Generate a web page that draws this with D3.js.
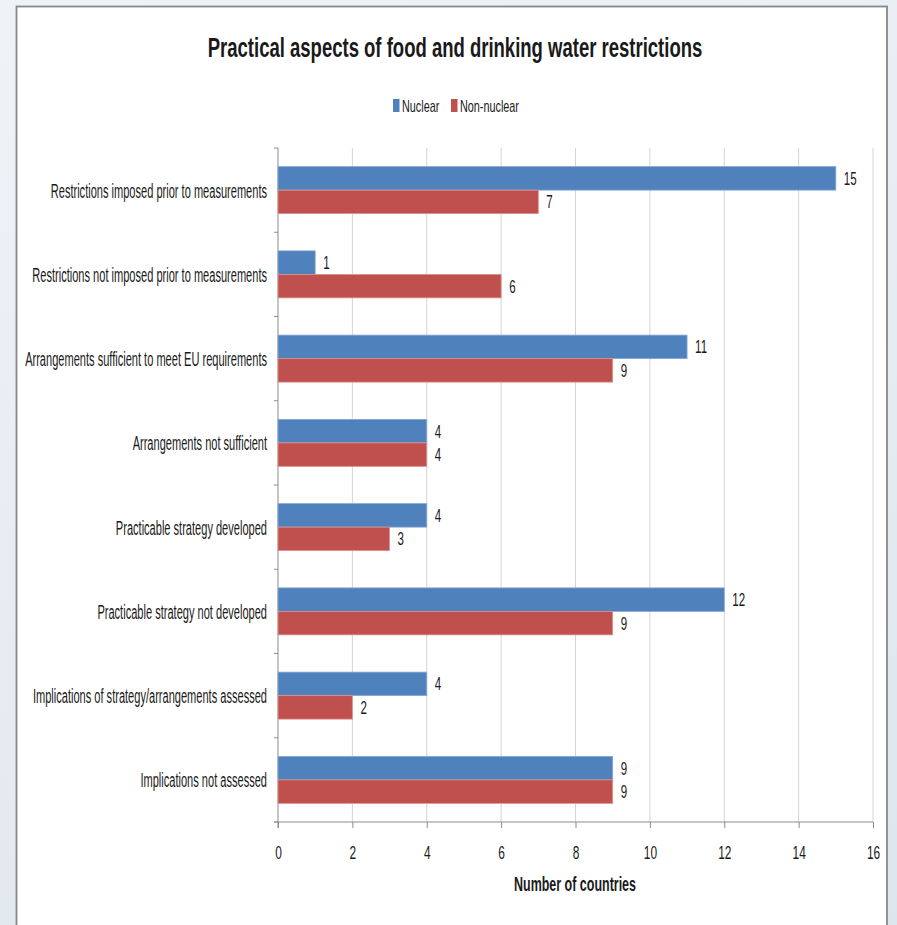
<!DOCTYPE html>
<meta charset="utf-8">
<style>
body {
    margin: 0;
    padding: 0;
    background: linear-gradient(160deg, #eef3f7, #dde6ed);
    width: 897px;
    height: 925px;
    overflow: hidden;
}
text {
    font-family: "Liberation Sans", Arial, sans-serif;
    fill: #1a1a1a;
}
</style>
<body>
<svg width="897" height="925"></svg>
<script src="https://d3js.org/d3.v7.min.js"></script>
<script>
// chart values
var categories = [
    "Restrictions imposed prior to measurements",
    "Restrictions not imposed prior to measurements",
    "Arrangements sufficient to meet EU requirements",
    "Arrangements not sufficient",
    "Practicable strategy developed",
    "Practicable strategy not developed",
    "Implications of strategy/arrangements assessed",
    "Implications not assessed"
];
var nuclear = [15, 1, 11, 4, 4, 12, 4, 9];
var nonNuclear = [7, 6, 9, 4, 3, 9, 2, 9];
var seriesNames = ["Nuclear", "Non-nuclear"];
var seriesColors = ["#4f81bd", "#c0504d"];
var xTicks = [0, 2, 4, 6, 8, 10, 12, 14, 16];

var svg = d3.select("svg");

// narrow the text horizontally (no condensed font available)
function squeeze(sel, s) {
    sel.each(function() {
        var t = d3.select(this),
            px = +t.attr("x") || 0,
            py = +t.attr("y") || 0;
        t.attr("x", 0).attr("y", 0)
         .attr("transform", "translate(" + px + "," + py + ") scale(" + s + ",1)");
    });
}

// white panel
svg.append("rect")
    .attr("x", 16.5).attr("y", 6.5)
    .attr("width", 870.5).attr("height", 930)
    .attr("fill", "#fff")
    .attr("stroke", "#888")
    .attr("stroke-width", 1.8);

var x = d3.scaleLinear().domain([0, 16]).range([278, 873]);
var y = d3.scaleBand().domain(categories).range([148, 822]);

// gridlines
svg.append("g").selectAll("line")
    .data(xTicks.slice(1))
    .enter().append("line")
    .attr("x1", function(d) { return x(d); })
    .attr("x2", function(d) { return x(d); })
    .attr("y1", 148).attr("y2", 822)
    .attr("stroke", "#d4d4d4");

// category labels first, to find the squeeze factor
var yAxis = svg.append("g");
var catText = yAxis.selectAll("text")
    .data(categories)
    .enter().append("text")
    .attr("x", 267)
    .attr("y", function(d) { return y(d) + y.bandwidth() / 2 + 7.5; })
    .attr("text-anchor", "end")
    .attr("font-size", 19.5)
    .text(function(d) { return d; });
var longest = catText.filter(function(d, i) { return i == 2; }).node().getComputedTextLength();
squeeze(catText, 242 / longest);

// factor for digits, measured on "16"
var probe = svg.append("text").attr("font-size", 17).text("16");
var digitNarrow = 12.5 / probe.node().getComputedTextLength();
probe.remove();

var rows = categories.map(function(c, i) {
    return {cat: c, vals: [nuclear[i], nonNuclear[i]]};
});

var barH = 23.5;
var g = svg.append("g");
rows.forEach(function(r) {
    var cy = y(r.cat) + y.bandwidth() / 2;
    r.vals.forEach(function(v, k) {
        var top = cy - barH + k * barH;
        g.append("rect")
            .attr("x", x(0))
            .attr("y", top)
            .attr("width", x(v) - x(0))
            .attr("height", barH)
            .attr("fill", seriesColors[k])
            .attr("stroke", k == 0 ? "#86a8d4" : "#dc9391")
            .attr("stroke-width", 0.8);
        var lab = g.append("text")
            .attr("x", x(v) + 8)
            .attr("y", top + barH / 2 + 6.5)
            .attr("font-size", 17.5)
            .text(v);
        squeeze(lab, digitNarrow);
    });
});

// y axis line and ticks
yAxis.append("line")
    .attr("x1", 278).attr("x2", 278)
    .attr("y1", 148).attr("y2", 828)
    .attr("stroke", "#8c8c8c");
yAxis.selectAll(".tk")
    .data(d3.range(categories.length + 1))
    .enter().append("line")
    .attr("x1", 274).attr("x2", 278)
    .attr("y1", function(i) { return 148 + i * y.step(); })
    .attr("y2", function(i) { return 148 + i * y.step(); })
    .attr("stroke", "#8c8c8c");

// x axis
var xAxis = svg.append("g")
    .attr("transform", "translate(0,822)")
    .call(d3.axisBottom(x).tickValues(xTicks).tickSize(6));
xAxis.select(".domain").attr("stroke", "#8c8c8c").attr("d", "M274,0H873");
xAxis.selectAll(".tick line").attr("stroke", "#8c8c8c");
var tickText = xAxis.selectAll(".tick text")
    .attr("font-size", 19)
    .attr("font-family", "Liberation Sans, Arial, sans-serif")
    .attr("fill", "#1a1a1a")
    .attr("dy", null)
    .attr("y", 37);
squeeze(tickText, digitNarrow * 0.95);

var xTitle = svg.append("text")
    .attr("x", 575).attr("y", 891)
    .attr("text-anchor", "middle")
    .attr("font-size", 21)
    .attr("font-weight", "bold")
    .text("Number of countries");
squeeze(xTitle, 122 / xTitle.node().getComputedTextLength());

// title
var title = svg.append("text")
    .attr("x", 455).attr("y", 57)
    .attr("text-anchor", "middle")
    .attr("font-size", 28)
    .attr("font-weight", "bold")
    .text("Practical aspects of food and drinking water restrictions");
squeeze(title, 495 / title.node().getComputedTextLength());

// legend
var legend = svg.append("g");
var lx = [393, 451];
var legText = [];
seriesNames.forEach(function(s, k) {
    legend.append("rect")
        .attr("x", lx[k]).attr("y", 99)
        .attr("width", 6.5).attr("height", 13)
        .attr("fill", seriesColors[k]);
    legText.push(legend.append("text")
        .attr("x", lx[k] + 9).attr("y", 112)
        .attr("font-size", 16)
        .text(s));
});
var legNarrow = 59 / legText[1].node().getComputedTextLength();
legText.forEach(function(t) { squeeze(t, legNarrow); });
</script>
</body>
